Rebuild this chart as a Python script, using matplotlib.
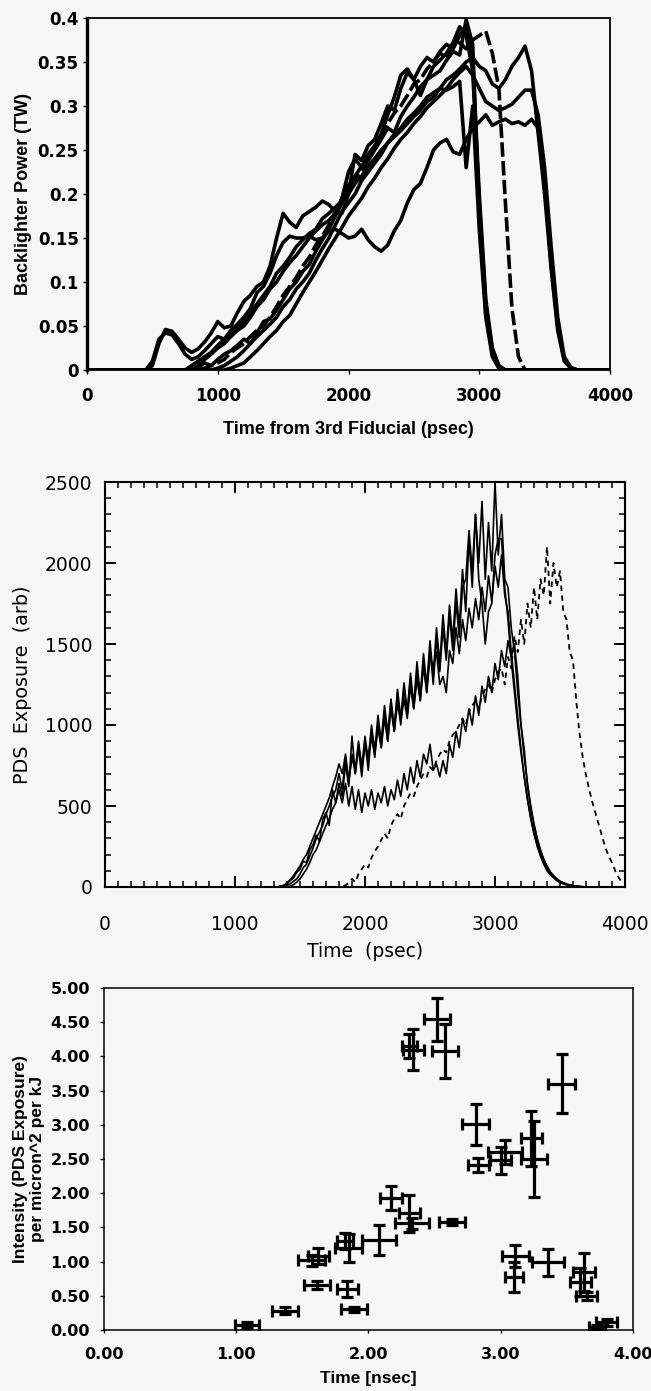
import numpy as np
import matplotlib
matplotlib.use("Agg")
import matplotlib.pyplot as plt
from matplotlib.ticker import MultipleLocator, FormatStrFormatter

# ---------------- Panel 1: backlighter power traces (TW x 1000) ----------------
t_bl = [0, 450, 500, 550, 600, 650, 700, 750, 800, 850, 900, 950, 1000, 1050, 1100,
        1150, 1200, 1250, 1300, 1350, 1400, 1450, 1500, 1550, 1600, 1650, 1700, 1750,
        1800, 1850, 1900, 1950, 2000, 2050, 2100, 2150, 2200, 2250, 2300, 2350, 2400,
        2450, 2500, 2550, 2600, 2650, 2700, 2750, 2800, 2850, 2900, 2950, 3000, 3050,
        3100, 3150, 3200, 3250, 3300, 3350, 3400, 3450, 3500, 3550, 3600, 3650, 3700,
        3750, 4000]

bl_1 = [0,
        0, 5, 30, 46, 44, 35, 25, 20, 24, 32,
        42, 55, 48, 50, 65, 78, 85, 95, 100, 118,
        150, 178, 168, 162, 175, 180, 185, 192, 188, 180,
        178, 200, 245, 238, 255, 262, 280, 300, 295, 320,
        338, 330, 312, 330, 345, 352, 360, 372, 390, 380,
        340, 190, 75, 22, 4, 0, 0, 0, 0, 0,
        0, 0, 0, 0, 0, 0, 0,
        0]
bl_2 = [0,
        0, 10, 35, 42, 40, 30, 18, 12, 15, 22,
        30, 38, 35, 45, 52, 60, 70, 88, 95, 110,
        130, 145, 152, 150, 150, 152, 148, 150, 158, 160,
        155, 150, 152, 160, 148, 140, 135, 142, 158, 170,
        190, 205, 212, 230, 250, 258, 262, 248, 245, 262,
        275, 282, 290, 278, 282, 285, 280, 282, 278, 285,
        275, 210, 120, 50, 12, 2, 0,
        0]
bl_3 = [0,
        0, 0, 0, 0, 0, 0, 0, 0, 3, 8,
        5, 12, 18, 22, 28, 35, 30, 42, 55, 58,
        68, 80, 92, 100, 112, 120, 135, 148, 160, 175,
        190, 210, 220, 232, 238, 250, 262, 275, 270, 288,
        300, 310, 322, 330, 335, 340, 352, 362, 358, 398,
        370, 175, 65, 18, 3, 0, 0, 0, 0, 0,
        0, 0, 0, 0, 0, 0, 0,
        0]
bl_4 = [0,
        0, 0, 0, 0, 0, 0, 0, 0, 0, 2,
        5, 8, 12, 20, 25, 30, 38, 45, 50, 60,
        72, 85, 95, 105, 118, 128, 142, 152, 165, 180,
        195, 205, 215, 225, 240, 252, 265, 280, 292, 300,
        312, 325, 330, 342, 350, 360, 355, 368, 372, 365,
        375, 380, 385, 360, 320, 190, 70, 15, 0, 0,
        0, 0, 0, 0, 0, 0, 0,
        0]
bl_5 = [0,
        0, 0, 0, 0, 0, 0, 0, 0, 0, 0,
        0, 2, 5, 10, 15, 22, 30, 38, 45, 52,
        60, 72, 80, 92, 100, 110, 125, 138, 150, 165,
        180, 190, 200, 215, 225, 235, 245, 258, 268, 275,
        285, 292, 300, 310, 315, 320, 330, 335, 342, 350,
        355, 345, 340, 325, 320, 330, 345, 355, 368, 340,
        270, 200, 115, 45, 10, 2, 0,
        0]
bl_6 = [0,
        0, 0, 0, 0, 0, 0, 0, 0, 0, 0,
        0, 0, 0, 2, 5, 8, 15, 22, 30, 38,
        45, 55, 62, 75, 88, 100, 112, 125, 138, 150,
        162, 175, 185, 195, 208, 218, 230, 240, 252, 262,
        270, 280, 288, 298, 305, 312, 320, 330, 338, 345,
        335, 320, 305, 300, 295, 298, 302, 310, 318, 318,
        290, 230, 140, 60, 15, 3, 0,
        0]
bl_7 = [0,
        0, 0, 0, 0, 0, 0, 0, 0, 5, 12,
        18, 25, 30, 38, 45, 50, 60, 72, 80, 92,
        100, 112, 122, 130, 140, 150, 158, 165, 170, 178,
        195, 225, 240, 230, 245, 255, 268, 290, 310, 335,
        342, 330, 345, 355, 350, 362, 370, 365, 380, 392,
        350, 200, 80, 25, 5, 0, 0, 0, 0, 0,
        0, 0, 0, 0, 0, 0, 0,
        0]
bl_8 = [0,
        0, 0, 0, 0, 0, 0, 0, 5, 10, 15,
        20, 28, 35, 40, 48, 55, 65, 75, 85, 95,
        110, 118, 128, 140, 148, 155, 160, 172, 178, 185,
        192, 200, 212, 220, 232, 240, 250, 258, 265, 272,
        280, 288, 295, 305, 310, 320, 318, 322, 328, 230,
        300, 160, 60, 15, 2, 0, 0, 0, 0, 0,
        0, 0, 0, 0, 0, 0, 0,
        0]
bl_solid = [bl_1, bl_2, bl_3, bl_5, bl_6, bl_7, bl_8]
bl_dashed = [bl_4]

# ---------------- Panel 2: PDS exposure traces (arb) ----------------
t_pds = [0,
         1300, 1325, 1350, 1375, 1400, 1425, 1450, 1475, 1500, 1525,
         1550, 1575, 1600, 1625, 1650, 1675, 1700, 1725, 1750, 1775,
         1800, 1825, 1850, 1875, 1900, 1925, 1950, 1975, 2000, 2025,
         2050, 2075, 2100, 2125, 2150, 2175, 2200, 2225, 2250, 2275,
         2300, 2325, 2350, 2375, 2400, 2425, 2450, 2475, 2500, 2525,
         2550, 2575, 2600, 2625, 2650, 2675, 2700, 2725, 2750, 2775,
         2800, 2825, 2850, 2875, 2900, 2925, 2950, 2975, 3000, 3025,
         3050, 3075, 3100, 3125, 3150, 3175, 3200, 3225, 3250, 3275,
         3300, 3325, 3350, 3375, 3400, 3425, 3450, 3475, 3500, 3525,
         3550, 3575, 3600, 3625, 3650, 3675, 3700, 3725, 3750, 3775,
         3800, 3825, 3850, 3875, 3900, 3925, 3950, 3975]

pds_1 = [0,
         0, 0, 5, 10, 20, 40, 55, 90, 110, 160,
         150, 230, 260, 320, 280, 420, 460, 380, 600, 520,
         640, 560, 760, 620, 930, 700, 900, 740, 930, 780,
         1000, 840, 1060, 900, 1120, 950, 1160, 980, 1220, 1040,
         1260, 1080, 1320, 1120, 1390, 1180, 1440, 1240, 1520, 1300,
         1600, 1380, 1680, 1440, 1740, 1520, 1840, 1600, 1960, 1700,
         2150, 1850, 2300, 2000, 2380, 1900, 2250, 1950, 2500, 2050,
         2300, 1900, 1850, 1600, 1450, 1200, 1000, 850, 620, 490,
         380, 290, 220, 170, 130, 95, 70, 50, 35, 25,
         18, 12, 8, 5, 3, 2, 0, 0, 0, 0,
         0, 0, 0, 0, 0, 0, 0, 0]
pds_2 = [0,
         0, 0, 0, 5, 10, 20, 35, 50, 80, 120,
         140, 190, 240, 300, 340, 380, 450, 500, 560, 600,
         700, 600, 800, 640, 820, 700, 860, 680, 900, 720,
         960, 800, 1020, 860, 1090, 900, 1140, 960, 1200, 1000,
         1230, 1060, 1290, 1100, 1340, 1150, 1400, 1200, 1470, 1250,
         1540, 1330, 1600, 1400, 1680, 1460, 1760, 1540, 1850, 1900,
         2200, 1950, 2300, 1900, 1750, 1500, 1700, 1750, 2050, 2150,
         2150, 1850, 1650, 1400, 1200, 1000, 830, 680, 540, 430,
         330, 260, 200, 150, 110, 85, 60, 42, 30, 20,
         15, 10, 7, 4, 2, 1, 0, 0, 0, 0,
         0, 0, 0, 0, 0, 0, 0, 0]
pds_3 = [0,
         0, 0, 0, 0, 0, 5, 15, 30, 50, 80,
         110, 150, 200, 230, 280, 330, 380, 420, 480, 520,
         600, 520, 640, 500, 620, 480, 600, 460, 580, 500,
         600, 480, 580, 520, 620, 500, 600, 540, 660, 560,
         700, 600, 740, 640, 780, 680, 820, 760, 880, 720,
         760, 680, 780, 700, 880, 800, 960, 860, 1040, 960,
         1100, 1000, 1180, 1060, 1240, 1140, 1300, 1200, 1380, 1280,
         1460, 1360, 1520, 1420, 1500, 1300, 1000, 800, 640, 500,
         390, 300, 230, 170, 125, 90, 70, 50, 36, 26,
         18, 12, 8, 5, 3, 1, 0, 0, 0, 0,
         0, 0, 0, 0, 0, 0, 0, 0]
pds_4 = [0,
         0, 0, 5, 10, 25, 45, 70, 100, 130, 170,
         200, 250, 300, 350, 400, 450, 500, 550, 620, 680,
         760, 700, 820, 660, 800, 720, 880, 740, 860, 820,
         920, 820, 980, 860, 1040, 900, 1100, 960, 1130, 1020,
         1160, 1040, 1240, 1100, 1280, 1150, 1360, 1200, 1420, 1360,
         1450, 1250, 1300, 1200, 1460, 1380, 1600, 1440, 1650, 1520,
         1720, 1600, 1780, 1650, 1850, 1700, 1920, 1760, 1980, 1850,
         2050, 1800, 1700, 1450, 1250, 1050, 850, 680, 540, 420,
         330, 250, 190, 140, 100, 75, 58, 40, 28, 20,
         14, 10, 6, 4, 2, 1, 0, 0, 0, 0,
         0, 0, 0, 0, 0, 0, 0, 0]
pds_dash = [0,
            0, 0, 0, 0, 0, 0, 0, 0, 0, 0,
            0, 0, 0, 0, 0, 0, 0, 0, 0, 0,
            0, 5, 10, 25, 50, 30, 80, 110, 140, 120,
            180, 220, 250, 290, 330, 300, 380, 420, 450, 420,
            500, 540, 580, 560, 620, 660, 700, 680, 740, 720,
            780, 820, 850, 830, 900, 940, 960, 1000, 1040, 1000,
            1080, 1120, 1150, 1100, 1180, 1220, 1250, 1200, 1280, 1330,
            1350, 1250, 1420, 1350, 1550, 1450, 1650, 1500, 1750, 1600,
            1850, 1650, 1900, 1800, 2100, 1750, 2000, 1850, 1950, 1700,
            1650, 1450, 1400, 1150, 950, 800, 690, 600, 520, 450,
            380, 310, 240, 190, 150, 100, 60, 30]
pds_solid = [pds_1, pds_2, pds_3, pds_4]

# ---------------- Panel 3: intensity points with error bars ----------------
int_t = [1.08, 1.37, 1.57, 1.62, 1.61, 1.82, 1.85, 1.84, 1.89, 2.08, 2.17, 2.31,
         2.33, 2.34, 2.31, 2.52, 2.58, 2.63, 2.81, 2.83, 3.00, 3.03, 3.11, 3.10,
         3.23, 3.25, 3.36, 3.46, 3.60, 3.63, 3.65, 3.73, 3.80]
int_v = [0.07, 0.28, 1.02, 1.08, 0.66, 1.30, 1.20, 0.60, 0.30, 1.32, 1.93, 1.71,
         1.56, 4.10, 4.15, 4.54, 4.08, 1.58, 3.01, 2.41, 2.48, 2.60, 1.08, 0.78,
         2.80, 2.50, 0.99, 3.60, 0.70, 0.85, 0.50, 0.04, 0.11]
int_terr = [0.09, 0.10, 0.10, 0.08, 0.10, 0.06, 0.10, 0.08, 0.10, 0.13, 0.08, 0.08,
            0.13, 0.08, 0.06, 0.10, 0.10, 0.10, 0.10, 0.08, 0.08, 0.13, 0.10, 0.07,
            0.08, 0.10, 0.12, 0.10, 0.08, 0.08, 0.08, 0.06, 0.08]
int_verr = [0.04, 0.05, 0.08, 0.12, 0.06, 0.12, 0.20, 0.12, 0.03, 0.22, 0.17, 0.27,
            0.08, 0.30, 0.18, 0.32, 0.40, 0.05, 0.30, 0.10, 0.20, 0.18, 0.16, 0.22,
            0.40, 0.55, 0.20, 0.43, 0.20, 0.28, 0.06, 0.03, 0.05]

BG = '#f6f6f6'
W, H = 651, 1391
fig = plt.figure(figsize=(W / 100, H / 100), dpi=100, facecolor=BG)


def box(l, r, t, b):
    return [l / W, 1 - b / H, (r - l) / W, (b - t) / H]


def style_ticks(ax, family, weight):
    for lab in ax.get_xticklabels() + ax.get_yticklabels():
        lab.set_family(family)
        lab.set_fontweight(weight)


lab_font = dict(family='Liberation Sans', fontweight='bold')

# ---- Panel 1
ax1 = fig.add_axes(box(87, 610, 18, 370), facecolor=BG)
tb = np.array(t_bl)
for tr in bl_solid:
    ax1.plot(tb, np.array(tr) / 1000.0, color='black', lw=2.6,
             solid_joinstyle='round')
for tr in bl_dashed:
    ax1.plot(tb, np.array(tr) / 1000.0, color='black', lw=2.6, ls=(0, (4, 1.2)))
ax1.set_xlim(0, 4000)
ax1.set_ylim(0, 0.4)
ax1.set_xticks([0, 1000, 2000, 3000, 4000])
ax1.set_yticks([0, 0.05, 0.1, 0.15, 0.2, 0.25, 0.3, 0.35, 0.4])
ax1.set_yticklabels(['0', '0.05', '0.1', '0.15', '0.2', '0.25', '0.3', '0.35', '0.4'])
for s in ['top', 'right', 'bottom']:
    ax1.spines[s].set_linestyle((0, (1, 1)))
    ax1.spines[s].set_linewidth(1.3)
ax1.spines['left'].set_linewidth(2.4)
ax1.tick_params(axis='both', direction='out', length=3, width=1, labelsize=12, pad=3)
ax1.tick_params(axis='x', pad=9)
style_ticks(ax1, 'DejaVu Sans', 'bold')
ax1.set_xlabel('Time from 3rd Fiducial (psec)', fontsize=13, labelpad=12, **lab_font)
ax1.set_ylabel('Backlighter Power (TW)', fontsize=13, labelpad=4, **lab_font)

# ---- Panel 2
ax2 = fig.add_axes(box(105, 625, 482, 887), facecolor=BG)
tp = np.array(t_pds)
for tr in pds_solid:
    ax2.plot(tp, tr, color='black', lw=1.2)
ax2.plot(tp, pds_dash, color='black', lw=1.3, ls=(0, (3, 2.5)))
ax2.set_xlim(0, 4000)
ax2.set_ylim(0, 2500)
ax2.xaxis.set_major_locator(MultipleLocator(1000))
ax2.xaxis.set_minor_locator(MultipleLocator(100))
ax2.yaxis.set_major_locator(MultipleLocator(500))
ax2.yaxis.set_minor_locator(MultipleLocator(100))
for s in ax2.spines.values():
    s.set_linewidth(1.5)
ax2.tick_params(which='major', direction='in', length=8, width=1.4,
                top=True, right=True, labelsize=13.5)
ax2.tick_params(which='minor', direction='in', length=4, width=1.1, top=True, right=True)
ax2.tick_params(axis='x', which='major', pad=20)
ax2.tick_params(axis='y', which='major', pad=9)
style_ticks(ax2, 'DejaVu Sans', 'normal')
ax2.set_xlabel('Time  (psec)', fontsize=13.5, family='DejaVu Sans', labelpad=6)
ax2.set_ylabel('PDS  Exposure  (arb)', fontsize=13.8, family='DejaVu Sans', labelpad=9)

# ---- Panel 3
ax3 = fig.add_axes(box(104, 633, 988, 1330), facecolor=BG)
ax3.errorbar(int_t, int_v, xerr=int_terr, yerr=int_verr, fmt='none', ecolor='black',
             elinewidth=2.3, capsize=4.5, capthick=2.3)
ax3.set_xlim(0, 4)
ax3.set_ylim(0, 5)
ax3.xaxis.set_major_locator(MultipleLocator(1.0))
ax3.yaxis.set_major_locator(MultipleLocator(0.5))
ax3.xaxis.set_major_formatter(FormatStrFormatter('%.2f'))
ax3.yaxis.set_major_formatter(FormatStrFormatter('%.2f'))
for s in ax3.spines.values():
    s.set_linewidth(1.1)
ax3.tick_params(axis='y', direction='out', length=3, width=1, labelsize=11.5, pad=7)
ax3.tick_params(axis='x', direction='out', length=2, width=1, labelsize=11.5, pad=10)
style_ticks(ax3, 'DejaVu Sans', 'bold')
ax3.set_xlabel('Time [nsec]', fontsize=12.5, labelpad=7, **lab_font)
ax3.set_ylabel('Intensity (PDS Exposure)\nper micron^2 per kJ', fontsize=12.5,
               labelpad=4, linespacing=1.15, **lab_font)

fig.savefig('out.png', dpi=100, facecolor=BG)
